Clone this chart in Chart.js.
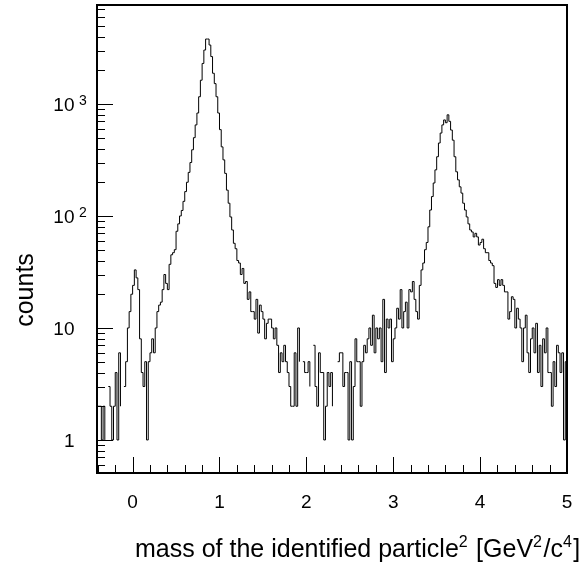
<!DOCTYPE html>
<html>
<head>
<meta charset="utf-8">
<script src="https://cdn.jsdelivr.net/npm/chart.js@4.4.1/dist/chart.umd.min.js"></script>
<style>
  html, body { margin: 0; padding: 0; background: #ffffff; }
  #c { display: block; }
</style>
</head>
<body>
<canvas id="c" width="587" height="571"></canvas>
<script>
// ---- data ----
const binStart = -0.4;
const binWidth = 0.02;
const counts = [
  2,2,1,2,1,0,3,2,1,2,
  4,1,6,2,0,3,5,10,14,20,
  24,33,28,22,8,4,3,5,1,5,
  6,8,6,10,14,16,17,22,30,25,
  22,37,45,47,50,73,85,100,112,135,
  165,200,245,300,390,500,650,830,1160,1630,
  2300,3030,3800,3800,3360,2650,1880,1520,1160,830,
  590,414,317,240,170,130,98,75,57,51,
  40,38,30,34,25,26,18,21,14,14,
  12,18,9,16,14,12,8,11,12,12,
  10,8,10,7,4,6,5,7,5,4,
  3,2,2,6,2,10,5,0,5,4,
  4,5,3,0,7,3,2,6,4,4,
  1,2,4,3,4,2,0,0,5,6,
  6,3,4,4,1,5,1,3,8,5,
  5,2,5,7,6,8,10,7,13,6,
  10,8,10,5,18,4,12,10,12,5,
  8,10,15,12,22,10,14,17,10,22,
  21,26,18,14,12,24,33,38,50,58,
  80,113,149,197,258,338,448,550,650,720,
  680,800,700,585,475,338,248,210,182,160,
  130,113,98,85,75,72,65,70,65,55,
  58,62,51,47,47,40,38,36,25,23,
  27,24,27,24,21,21,12,14,19,18,
  10,15,12,10,5,10,13,6,4,8,
  10,6,11,4,7,3,8,6,10,4,
  4,2,5,3,7,6,4,6,1,5
];
const xAxisMin = -0.41;
const xAxisMax = 5.0;
const yAxisMin = 0.507;
const yAxisMax = 7650;
const xMajorTicks = [0, 1, 2, 3, 4, 5];
const xTickLabels = ['0', '1', '2', '3', '4', '5'];
const xMinorTicks = [-0.4, -0.2, 0.2, 0.4, 0.6, 0.8, 1.2, 1.4, 1.6, 1.8, 2.2, 2.4, 2.6, 2.8, 3.2, 3.4, 3.6, 3.8, 4.2, 4.4, 4.6, 4.8];
const yMajorTicks = [1, 10, 100, 1000];
const yTickBase = ['1', '10', '10', '10'];
const yTickExp = ['', '', '2', '3'];
const yMinorTicks = [0.6, 0.7, 0.8, 0.9, 2, 3, 4, 5, 6, 7, 8, 9, 20, 30, 40, 50, 60, 70, 80, 90,
                     200, 300, 400, 500, 600, 700, 800, 900, 2000, 3000, 4000, 5000, 6000, 7000];
const xTitleParts = [
  { t: 'mass of the identified particle', sup: false },
  { t: '2', sup: true },
  { t: ' [GeV', sup: false },
  { t: '2', sup: true },
  { t: '/c', sup: false },
  { t: '4', sup: true },
  { t: ']', sup: false }
];
const yTitle = 'counts';

// histogram outline points: left edge of every bin, plus the right edge of the last bin
const points = counts.map((v, i) => ({ x: binStart + i * binWidth, y: v }));
points.push({ x: binStart + counts.length * binWidth, y: counts[counts.length - 1] });

const FONT = '"Liberation Sans", Arial, Helvetica, sans-serif';

const rootFrame = {
  id: 'rootFrame',
  afterDatasetsDraw(chart) {
    const { ctx, chartArea: a, scales } = chart;
    const xs = scales.x, ys = scales.y;
    ctx.save();
    ctx.strokeStyle = '#000000';
    ctx.fillStyle = '#000000';

    // ticks (drawn inside the frame)
    ctx.lineWidth = 1;
    ctx.beginPath();
    xMajorTicks.forEach(v => {
      const px = Math.round(xs.getPixelForValue(v)) + 0.5;
      ctx.moveTo(px, a.bottom); ctx.lineTo(px, a.bottom - 16);
    });
    xMinorTicks.forEach(v => {
      const px = Math.round(xs.getPixelForValue(v)) + 0.5;
      if (px < a.left + 1) return;
      ctx.moveTo(px, a.bottom); ctx.lineTo(px, a.bottom - 8);
    });
    yMajorTicks.forEach(v => {
      const py = Math.round(ys.getPixelForValue(v)) + 0.5;
      ctx.moveTo(a.left, py); ctx.lineTo(a.left + 16, py);
    });
    yMinorTicks.forEach(v => {
      const py = Math.round(ys.getPixelForValue(v)) + 0.5;
      if (py < a.top + 1 || py > a.bottom - 1) return;
      ctx.moveTo(a.left, py); ctx.lineTo(a.left + 8, py);
    });
    ctx.stroke();

    // frame
    ctx.lineWidth = 2;
    ctx.strokeRect(a.left, a.top, a.right - a.left, a.bottom - a.top);

    // x tick labels
    ctx.font = '19px ' + FONT;
    ctx.textAlign = 'center';
    ctx.textBaseline = 'alphabetic';
    xMajorTicks.forEach((v, i) => {
      ctx.fillText(xTickLabels[i], xs.getPixelForValue(v), a.bottom + 35);
    });

    // y tick labels with exponents
    yMajorTicks.forEach((v, i) => {
      const py = ys.getPixelForValue(v);
      ctx.font = '19px ' + FONT;
      ctx.textAlign = 'right';
      ctx.fillText(yTickBase[i], a.left - 22.5, py + 7);
      if (yTickExp[i]) {
        ctx.font = '14px ' + FONT;
        ctx.textAlign = 'left';
        ctx.fillText(yTickExp[i], a.left - 18, py + 1);
      }
    });

    // x title
    let tx = 135;
    const base = 557;
    xTitleParts.forEach(p => {
      ctx.font = (p.sup ? '16px ' : '25px ') + FONT;
      ctx.textAlign = 'left';
      ctx.fillText(p.t, tx, p.sup ? base - 10 : base);
      tx += ctx.measureText(p.t).width + (p.sup ? 1.5 : 0);
    });

    // y title
    ctx.save();
    ctx.translate(33, 290);
    ctx.rotate(-Math.PI / 2);
    ctx.font = '25px ' + FONT;
    ctx.textAlign = 'center';
    ctx.fillText(yTitle, 0, 0);
    ctx.restore();

    ctx.restore();
  }
};

new Chart(document.getElementById('c'), {
  type: 'line',
  data: {
    datasets: [{
      label: 'counts',
      data: points,
      stepped: true,
      borderColor: '#000000',
      borderWidth: 1,
      pointRadius: 0,
      fill: false,
      tension: 0
    }]
  },
  options: {
    responsive: false,
    animation: false,
    devicePixelRatio: 1,
    layout: { padding: { left: 97, top: 5, right: 20, bottom: 98 } },
    plugins: { legend: { display: false }, tooltip: { enabled: false }, title: { display: false } },
    scales: {
      x: { type: 'linear', min: xAxisMin, max: xAxisMax, display: false },
      y: { type: 'logarithmic', min: yAxisMin, max: yAxisMax, display: false }
    }
  },
  plugins: [rootFrame]
});
</script>
</body>
</html>
